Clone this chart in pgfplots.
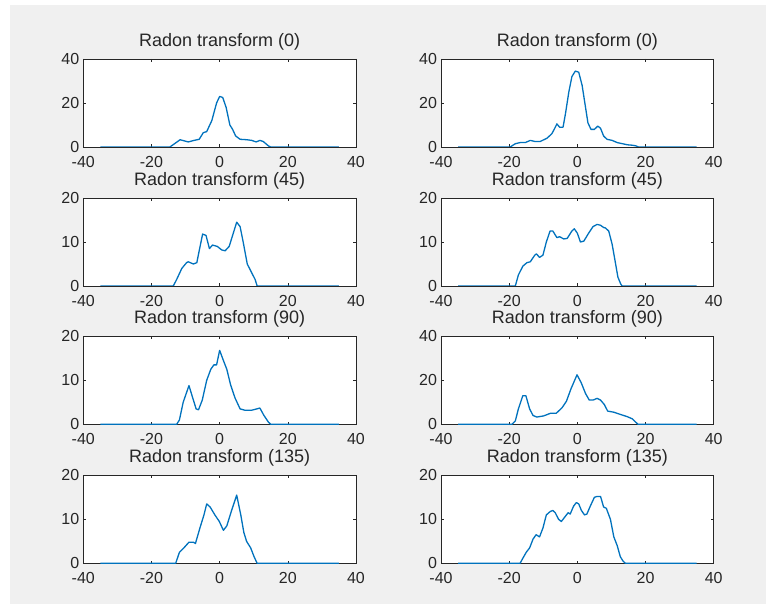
\documentclass[border=0pt]{standalone}
\usepackage{pgfplots}
\pgfplotsset{compat=1.18}
\usepackage{fontspec}
\setmainfont{Liberation Sans}
\definecolor{mline}{RGB}{0,114,189}
\definecolor{maxis}{RGB}{38,38,38}
\definecolor{mbg}{RGB}{240,240,240}
\pgfplotsset{
  radon/.style={
    scale only axis, width=272.7bp, height=88bp, anchor=south west,
    xmin=-40, xmax=40, xtick={-40,-20,0,20,40},
    ymin=0,
    axis background/.style={fill=white},
    axis line style={maxis, line width=0.6bp},
    every tick/.style={maxis, line width=0.6bp},
    major tick length=2.7bp,
    tick align=inside,
    /pgf/number format/assume math mode=true,
    tick label style={font=\fontsize{16bp}{18bp}\selectfont, text=maxis},
    xticklabel shift=5.5bp,
    yticklabel shift=0.5bp,
    title style={font=\fontsize{18bp}{20bp}\selectfont, text=maxis, yshift=-0.5bp},
  },
  r20/.style={ymax=20, ytick={0,10,20}},
  r40/.style={ymax=40, ytick={0,20,40}},
}
\tikzset{rline/.style={color=mline, line width=1.3bp, mark=none, line join=round}}
\begin{document}
\begin{tikzpicture}
\fill[white] (0bp,0bp) rectangle (766bp,604bp);
\fill[mbg] (10bp,0bp) rectangle (766bp,599bp);
% Row 1
\begin{axis}[radon, r40, at={(83.3bp,457bp)}, title={Radon transform (0)}]
\addplot[rline] coordinates {(-35,0) (-14.6,0) (-13.5,1.2) (-11.6,3.3) (-9.2,2.3) (-7.5,3) (-6,3.5) (-4.8,6.5) (-3.8,7) (-2.3,12) (-0.9,20) (0,23) (0.9,22.5) (1.9,18) (3,10) (3.8,8) (4.7,5) (6,3.5) (8,3.3) (9.4,3) (10.7,2.3) (11.8,3) (12.8,2.5) (14.3,0.5) (15,0) (35,0)};
\end{axis}
\begin{axis}[radon, r40, at={(441bp,457bp)}, title={Radon transform (0)}]
\addplot[rline] coordinates {(-35,0) (-19.7,0) (-18.2,1.5) (-16.8,2) (-15.3,2) (-13.8,3) (-12.4,2.5) (-10.9,2.5) (-8.9,4) (-7.5,6) (-6.8,8) (-6,10.5) (-5.2,9) (-4.2,9) (-3.5,15) (-2.5,25) (-1.6,32) (-0.6,34.5) (0.4,34) (1.4,28) (2.4,18) (3.1,11) (4,8) (5,8) (6,9.5) (6.8,8.5) (7.7,5) (8.7,3.5) (10.2,3) (11.7,2) (13.2,1.5) (14.7,1) (16.2,0.8) (17.2,0.5) (17.9,0) (35,0)};
\end{axis}
% Row 2
\begin{axis}[radon, r20, at={(83.3bp,318bp)}, title={Radon transform (45)}]
\addplot[rline] coordinates {(-35,0) (-13.6,0) (-12.6,1.5) (-11.1,4) (-9.7,5.3) (-9.2,5.5) (-7.7,5) (-6.7,5.3) (-6,8) (-5,11.8) (-4,11.5) (-3,8.5) (-2.1,9.3) (-0.7,9) (0.6,8.2) (1.6,8) (2.8,9) (4,12) (5,14.5) (6,13.5) (6.9,10) (8.1,5) (9.4,3) (10.4,1.5) (11,0) (35,0)};
\end{axis}
\begin{axis}[radon, r20, at={(441bp,318bp)}, title={Radon transform (45)}]
\addplot[rline] coordinates {(-35,0) (-18.2,0) (-17.3,2.5) (-16,4.5) (-14.8,5.3) (-13.8,5.5) (-12.5,7) (-12,7.3) (-11.1,6.5) (-10.1,7) (-9.1,10) (-8,12.5) (-7.2,12.5) (-6,11) (-5.2,11.2) (-4,10.7) (-3,10.8) (-1.6,12.5) (-0.9,13) (0,12) (0.9,10) (1.9,10.2) (3.3,12) (4.6,13.5) (5.8,14) (6.8,13.8) (7.7,13.3) (8.2,13.2) (9.2,12.5) (10.2,9.5) (11,6) (11.9,2) (12.7,0.5) (13.1,0) (35,0)};
\end{axis}
% Row 3
\begin{axis}[radon, r20, at={(83.3bp,179.7bp)}, title={Radon transform (90)}]
\addplot[rline] coordinates {(-35,0) (-12.6,0) (-11.8,1) (-10.7,5) (-9,8.8) (-7.9,6) (-6.9,3.5) (-6.2,3.3) (-5.1,5.5) (-3.8,10) (-2.6,12.5) (-1.7,13.5) (-0.9,13.5) (0,16.8) (1.1,14.5) (2.1,12.5) (3.2,9) (4.5,6) (6,3.5) (7.4,3.2) (9.4,3.2) (10.9,3.5) (11.8,3.7) (13,2) (14.3,0.5) (15,0) (35,0)};
\end{axis}
\begin{axis}[radon, r40, at={(441bp,179.7bp)}, title={Radon transform (90)}]
\addplot[rline] coordinates {(-35,0) (-19.2,0) (-18.2,1.5) (-17.3,7) (-16,13) (-15.1,13) (-14,7) (-13,4) (-11.9,3.3) (-9.9,3.8) (-7.9,5) (-6.2,5) (-4.5,7.5) (-3.2,10.5) (-1.9,16) (-0.1,22.5) (1.1,19) (2.4,14) (3.5,11) (4.6,11) (5.8,11.8) (6.8,11) (7.9,9) (8.9,6) (10.7,5.5) (12.6,4.5) (14.6,3.5) (16.1,2.5) (17.1,1) (17.8,0) (35,0)};
\end{axis}
% Row 4
\begin{axis}[radon, r20, at={(83.3bp,40.7bp)}, title={Radon transform (135)}]
\addplot[rline] coordinates {(-35,0) (-12.9,0) (-11.8,2.5) (-10.5,3.5) (-9,4.8) (-7.7,4.8) (-7.1,4.5) (-5.8,8) (-4.6,11) (-3.8,13.5) (-2.8,12.8) (-1.4,11) (-0.1,9.5) (1.1,7.5) (2.1,8.5) (3.5,12) (5,15.5) (6.2,11) (7.1,7) (7.9,5) (9.1,3.5) (10.1,1.5) (11,0) (35,0)};
\end{axis}
\begin{axis}[radon, r20, at={(441bp,40.7bp)}, title={Radon transform (135)}]
\addplot[rline] coordinates {(-35,0) (-16.8,0) (-16.1,1) (-15,2.5) (-14,3.5) (-13,5.5) (-12.1,6.5) (-11.1,6) (-10.1,8) (-9.1,11) (-7.9,11.8) (-7.2,12) (-6.5,11.5) (-5.5,10) (-4.7,9.5) (-3.7,10.5) (-2.7,11.5) (-2.1,11.2) (-1.1,13) (-0.3,13.8) (0.4,13.5) (1.2,12) (2.1,11) (2.8,11.2) (3.8,13) (5,15) (5.8,15.2) (6.8,15.2) (7.7,12.8) (8.5,12.5) (9.7,10) (10.7,6) (11.7,4) (12.6,1.5) (13.4,0.5) (14.1,0) (35,0)};
\end{axis}
\end{tikzpicture}
\end{document}
